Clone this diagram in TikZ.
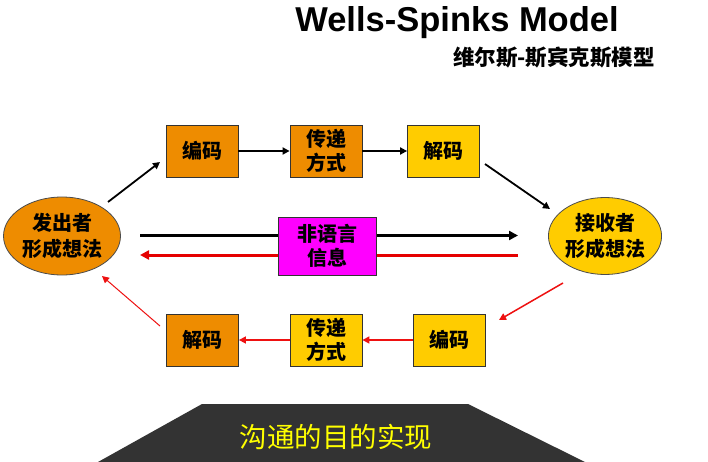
\documentclass[tikz,border=0pt]{standalone}
\usepackage{fontspec}
\setmainfont{Liberation Sans}
\newfontfamily\cjk{Noto Sans CJK SC}
\usetikzlibrary{arrows.meta,shapes.geometric}
\definecolor{dorange}{HTML}{EE8C00}
\definecolor{gold}{HTML}{FFCC00}
\definecolor{darkgray}{HTML}{333333}
\definecolor{arred}{HTML}{EE1111}
\definecolor{pinkbox}{HTML}{FF00FF}
\definecolor{goaltext}{HTML}{FFFF00}
\begin{document}
\begin{tikzpicture}[x=1pt,y=-1pt,
  box/.style={draw=black!80,line width=0.8pt,minimum width=72pt,minimum height=52pt,inner sep=0pt,
    align=center,font=\cjk\bfseries\fontsize{20}{24.5}\selectfont},
  ell/.style={ellipse,draw=black!70,line width=0.8pt,inner sep=0pt,align=center,
    font=\cjk\bfseries\fontsize{20}{26}\selectfont},
  blk/.style={draw=black,line width=1.8pt,-{Triangle[length=7pt,width=7pt]}},
  rd/.style={draw=arred,line width=1.5pt,-{Triangle[length=7pt,width=7pt]}},
  thk/.style={line width=3pt}]
\useasboundingbox[fill=white] (0,0) rectangle (708,462);
% title
\node[font=\bfseries\fontsize{34.5}{37}\selectfont] (title) at (457,23) {Wells-Spinks Model};
\node[font=\cjk\bfseries\fontsize{21.5}{23}\selectfont] (sub) at (554,58) {维尔斯-斯宾克斯模型};
% bottom trapezoid
\fill[darkgray] (98,462) -- (202,404) -- (468,404) -- (585,462) -- cycle;
\node[font=\cjk\fontsize{27.5}{29}\selectfont,text=goaltext] (goal) at (336,437) {沟通的目的实现};
% ellipses
\node[ell,fill=dorange,minimum width=117pt,minimum height=78pt] (send) at (62,236) {发出者\\形成想法};
\node[ell,fill=gold,minimum width=111pt,minimum height=77pt] (recv) at (605,236) {接收者\\形成想法};
% top row
\node[box,fill=dorange] (enc1) at (202,151) {编码};
\node[box,fill=dorange] (trans1) at (326,151) {传递\\方式};
\node[box,fill=gold] (dec1) at (443.5,151) {解码};
% bottom row
\node[box,fill=dorange] (dec2) at (202.5,340) {解码};
\node[box,fill=gold] (trans2) at (326,340) {传递\\方式};
\node[box,fill=gold] (enc2) at (449.5,340) {编码};
% free ends
\coordinate (b1s) at (140,235.5);
\coordinate (b1e) at (518,235.5);
\coordinate (r1s) at (518,255);
\coordinate (r1e) at (140,255);
\coordinate (a1s) at (108,202);
\coordinate (a1e) at (160,162);
\coordinate (a4s) at (485,164);
\coordinate (a4e) at (550,209);
\coordinate (a5s) at (563,283);
\coordinate (a5e) at (499,320);
\coordinate (a8s) at (160,326);
\coordinate (a8e) at (102,276);
% horizontal long arrows
\draw[blk,thk,-{Triangle[length=9pt,width=9pt]}] (b1s) -- (b1e);
\draw[rd,thk,draw=red!90!black,-{Triangle[length=9pt,width=9pt]}] (r1s) -- (r1e);
\node[box,fill=pinkbox,minimum width=98pt,minimum height=58pt] (nonv) at (327,246) {非语言\\信息};
% top arrows
\draw[blk] (a1s) -- (a1e);
\draw[blk] (enc1) -- (trans1);
\draw[blk] (trans1) -- (dec1);
\draw[blk] (a4s) -- (a4e);
% bottom arrows
\draw[rd] (a5s) -- (a5e);
\draw[rd] (enc2) -- (trans2);
\draw[rd] (trans2) -- (dec2);
\draw[rd,line width=1pt] (a8s) -- (a8e);
\end{tikzpicture}
\end{document}
